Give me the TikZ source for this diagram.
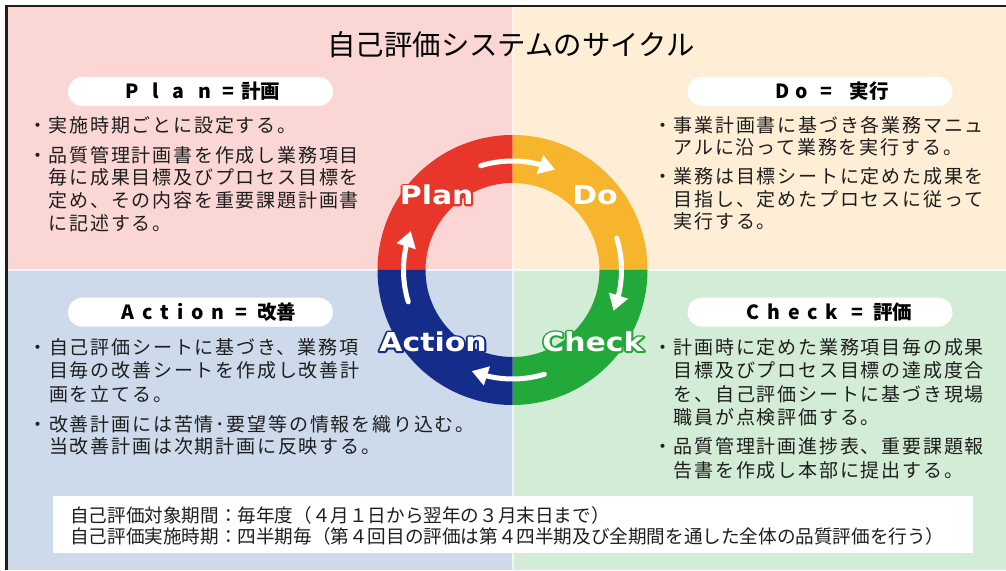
\documentclass[tikz,border=0pt]{standalone}
\usepackage{fontspec}
\setmainfont{Noto Sans CJK JP}
\newfontfamily\jp{Noto Sans CJK JP}
\newfontfamily\jpls{Noto Sans CJK JP}[LetterSpace=9.5]
\newfontfamily\labfont{DejaVu Sans}
\usetikzlibrary{arrows.meta,bending,calc}
\definecolor{bgpink}{RGB}{250,214,212}
\definecolor{bgcream}{RGB}{253,238,213}
\definecolor{bgblue}{RGB}{204,218,235}
\definecolor{bggreen}{RGB}{211,236,214}
\definecolor{ringred}{RGB}{232,54,42}
\definecolor{ringorange}{RGB}{247,181,45}
\definecolor{ringgreen}{RGB}{35,168,58}
\definecolor{ringblue}{RGB}{21,44,138}
\definecolor{framecol}{RGB}{30,30,30}
\definecolor{txt}{RGB}{30,30,30}
\newcommand\bulletmark{\llap{\makebox[22pt]{・}}}
\newcommand\lsp[2]{{\addfontfeature{LetterSpace=#1}#2}}
% stroked-only text (text render mode 1), used as the outline under the white label
\newcommand\strk[2]{\special{pdf:literal direct q 1 Tr 1 j 3.4 w #1 RG}#2\special{pdf:literal direct Q}}
\tikzset{
  body/.style={anchor=base west, inner sep=0pt, font=\jpls\fontsize{19pt}{22.8pt}\selectfont, text=txt},
  note/.style={anchor=base west, inner sep=0pt, font=\jp\fontsize{18.6pt}{21.7pt}\selectfont, text=txt},
  pill/.style={fill=white, rounded corners=14.5pt, minimum width=265pt, minimum height=29pt, inner sep=0pt},
  head/.style={inner sep=0pt, font=\jp\bfseries\fontsize{19.5pt}{20pt}\selectfont, text=black},
  ringlab/.style={inner sep=0pt, font=\labfont\bfseries\fontsize{26pt}{28pt}\selectfont, text=white},
  cyc/.style={draw=white, line width=5pt, line cap=round, -{Triangle[width=19pt,length=16pt]}},
}
\begin{document}
\begin{tikzpicture}[x=1pt,y=1pt]
\useasboundingbox (0,0) rectangle (1006,570);
\fill[white] (0,0) rectangle (1006,570);
% quadrant backgrounds
\fill[bgpink] (8,300) rectangle (513,563);
\fill[bgcream] (513,300) rectangle (1006,563);
\fill[bgblue] (8,0) rectangle (513,300);
\fill[bggreen] (513,0) rectangle (1006,300);
\draw[white, line width=1.2pt, opacity=0.7] (513,0) -- (513,563) (8,300) -- (1006,300);
\draw[framecol, line width=2.4pt] (6.5,0) -- (6.5,563.8) -- (1006,563.8);
% title
\node[anchor=base, inner sep=0pt, font=\jp\fontsize{28.4pt}{30pt}\selectfont, text=black] (title) at (511,514.4) {自己評価システムのサイクル};
% ring
\coordinate (c) at (512.5,300);
\fill[ringred] ($(c)+(90:135pt)$) arc[start angle=90,end angle=180,radius=135pt] -- ($(c)+(180:87pt)$) arc[start angle=180,end angle=90,radius=87pt] -- cycle;
\fill[ringorange] ($(c)+(0:135pt)$) arc[start angle=0,end angle=90,radius=135pt] -- ($(c)+(90:87pt)$) arc[start angle=90,end angle=0,radius=87pt] -- cycle;
\fill[ringgreen] ($(c)+(-90:135pt)$) arc[start angle=-90,end angle=0,radius=135pt] -- ($(c)+(0:87pt)$) arc[start angle=0,end angle=-90,radius=87pt] -- cycle;
\fill[ringblue] ($(c)+(180:135pt)$) arc[start angle=180,end angle=270,radius=135pt] -- ($(c)+(270:87pt)$) arc[start angle=270,end angle=180,radius=87pt] -- cycle;
% cycle arrows
\draw[cyc] ($(c)+(107:109pt)$) arc[start angle=107,end angle=67,radius=109pt];
\draw[cyc] ($(c)+(17:109pt)$) arc[start angle=17,end angle=-22,radius=109pt];
\draw[cyc] ($(c)+(-73:109pt)$) arc[start angle=-73,end angle=-112,radius=109pt];
\draw[cyc] ($(c)+(197:109pt)$) arc[start angle=197,end angle=159,radius=109pt];
% ring labels: coloured outline under white text
\node[ringlab] (out-plan) at (436.7,375) {\scalebox{1.15}[1]{\strk{0.91 0.21 0.165}{Plan}}};
\node[ringlab] (lab-plan) at (436.7,375) {\scalebox{1.15}[1]{Plan}};
\node[ringlab] (out-do) at (595,375) {\scalebox{1.15}[1]{\strk{0.969 0.71 0.176}{Do}}};
\node[ringlab] (lab-do) at (595,375) {\scalebox{1.15}[1]{Do}};
\node[ringlab] (out-check) at (593,228.3) {\scalebox{1.15}[1]{\strk{0.137 0.659 0.227}{Check}}};
\node[ringlab] (lab-check) at (593,228.3) {\scalebox{1.15}[1]{Check}};
\node[ringlab] (out-action) at (433,228.3) {\scalebox{1.15}[1]{\strk{0.082 0.173 0.541}{Action}}};
\node[ringlab] (lab-action) at (433,228.3) {\scalebox{1.15}[1]{Action}};
% header pills
\node[pill] (pplan) at (200.5,478.5) {};
\node[pill] (pdo) at (820,478.5) {};
\node[pill] (pact) at (200.5,257.8) {};
\node[pill] (pchk) at (820,257.8) {};
\node[head] (hplan) at (202.9,478.5) {\lsp{70}{Plan}\hspace{11pt}=\hspace{7pt}計画};
\node[head] (hdo) at (832.3,478.5) {\lsp{30}{Do}\hspace{12pt}=\hspace{18pt}実行};
\node[head] (hact) at (209,257.8) {\lsp{40}{Action}\hspace{11pt}=\hspace{10pt}改善};
\node[head] (hchk) at (829.5,257.8) {\lsp{40}{Check}\hspace{13pt}=\hspace{10pt}評価};
% Plan text
\node[body] (pl1) at (48.5,437.8) {\bulletmark 実施時期ごとに設定する。};
\node[body] (pl2) at (48.5,407.8) {\bulletmark 品質管理計画書を作成し業務項目};
\node[body] (pl3) at (48.5,385.0) {毎に成果目標及びプロセス目標を};
\node[body] (pl4) at (48.5,362.2) {定め、その内容を重要課題計画書};
\node[body] (pl5) at (48.5,339.4) {に記述する。};
% Do text
\node[body] (do1) at (673.5,437.8) {\bulletmark 事業計画書に基づき各業務マニュ};
\node[body] (do2) at (673.5,415.3) {アルに沿って業務を実行する。};
\node[body] (do3) at (673.5,386.1) {\bulletmark 業務は目標シートに定めた成果を};
\node[body] (do4) at (673.5,363.6) {目指し、定めたプロセスに従って};
\node[body] (do5) at (673.5,341.1) {実行する。};
% Action text
\node[body] (ac1) at (49,215.3) {\bulletmark 自己評価シートに基づき、業務項};
\node[body] (ac2) at (49,192.0) {目毎の改善シートを作成し改善計};
\node[body] (ac3) at (49,168.8) {画を立てる。};
\node[body] (ac4) at (49,138.8) {\bulletmark 改善計画には苦情･要望等の情報を織り込む。};
\node[body] (ac5) at (49,116.1) {当改善計画は次期計画に反映する。};
% Check text
\node[body] (ch1) at (673.5,215.3) {\bulletmark 計画時に定めた業務項目毎の成果};
\node[body] (ch2) at (673.5,192.0) {目標及びプロセス目標の達成度合};
\node[body] (ch3) at (673.5,168.8) {を、自己評価シートに基づき現場};
\node[body] (ch4) at (673.5,145.3) {職員が点検評価する。};
\node[body] (ch5) at (673.5,116.1) {\bulletmark 品質管理計画進捗表、重要課題報};
\node[body] (ch6) at (673.5,92.8) {告書を作成し本部に提出する。};
% bottom note
\fill[white] (53.3,16.7) rectangle (972.7,74);
\node[note] (n1) at (70,47.9) {自己評価対象期間：毎年度（４月１日から翌年の３月末日まで）};
\node[note] (n2) at (70,26.2) {自己評価実施時期：四半期毎（第４回目の評価は第４四半期及び全期間を通した全体の品質評価を行う）};
\end{tikzpicture}
\end{document}
